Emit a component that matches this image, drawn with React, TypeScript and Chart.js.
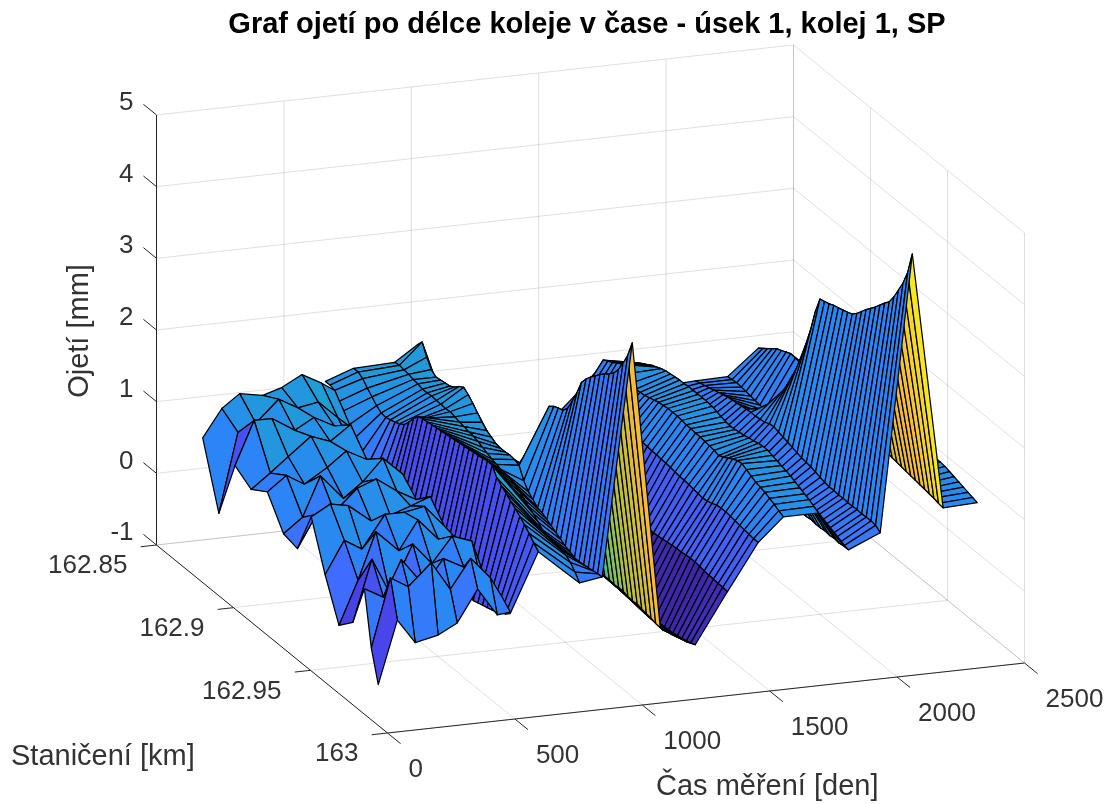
import React, { useEffect, useRef } from "react";
import { Chart, registerables } from "chart.js";

Chart.register(...registerables);

const titleText = "Graf ojetí po délce koleje v čase - úsek 1, kolej 1, SP";
const timeTicks = [0, 500, 1000, 1500, 2000, 2500];
const stationTicks = [162.85, 162.9, 162.95, 163];
const wearTicks = [-1, 0, 1, 2, 3, 4, 5];

const stations = [162.874,162.877,162.88,162.883,162.886,162.889,162.892,162.895,162.898,162.901,162.904,162.907,162.91,162.913,162.916,162.919,162.922,162.925,162.928,162.931,162.934,162.937,162.94,162.943,162.946,162.949,162.952,162.955,162.958,162.961,162.964,162.967,162.97,162.973,162.976,162.979,162.982,162.985,162.988,162.991,162.994];
const days = [518,628,790,879,997,1107,1244,1370,1491,1590,1727,1845,1970,2096,2217,2351];

const d518 = [1.5,1.5,1.48,1.38,1.3,1.15,1.0,.8,.6,.42,.3,.2,.15,.12,.1,.1,.08,.1,.12,.1,.08,.1,.12,.1,.08,.1,.12,.14,.12,.1,.12,.14,.12,.14,.16,.18,.2,.22,.26,.3,.36];
const d628 = [1.64,1.64,1.6,1.52,1.45,1.38,1.33,1.32,1.34,1.36,1.39,1.43,1.52,1.62,1.7,1.72,1.73,1.74,1.75,1.76,1.77,1.78,1.79,1.8,1.81,1.82,1.83,1.84,1.85,1.87,1.86,1.74,1.68,1.63,1.57,1.52,1.46,1.4,1.33,1.25,1.18];
const d790 = [1.66,1.67,1.66,1.65,1.63,1.62,1.6,1.6,1.61,1.6,1.6,1.59,1.6,1.58,1.56,1.55,1.53,1.52,1.5,1.47,1.44,1.41,1.39,1.37,1.36,1.34,1.31,1.27,1.22,1.17,1.12,1.06,1.0,.98,.96,.95,.93,.91,.86,.78,.68];
const d879 = [1.87,1.96,1.8,1.68,1.63,1.64,1.65,1.66,1.7,1.76,1.8,1.75,1.68,1.6,1.52,1.46,1.42,1.38,1.37,1.37,1.38,1.37,1.34,1.18,1.08,1.02,.96,.94,.9,.86,.82,.78,.74,.71,.68,.68,.69,.7,.71,.72,.73];
const d997 = [.72,.74,.7,.72,.74,.7,.72,.75,.74,.72,.7,.72,.74,.76,.75,.73,.72,.74,.76,.78,.85,1.05,2.12,2.17,2.2,2.22,2.3,2.45,2.62,2.82,2.92,3.0,3.07,3.14,3.2,3.25,3.32,3.42,3.56,3.72,3.95];
const d1107 = [.2,.2,.18,.15,.12,.1,.1,.08,.06,.05,.05,.03,.03,.02,.02,.02,.01,.02,.02,.02,.03,.03,.02,.02,.03,.02,.03,.03,.02,.02,.01,.02,.02,.0,-.01,.0,-.02,-.03,-.04,-.06,-.07];
const d1244 = [-.1,-.12,-.15,-.2,-.22,-.25,-.28,-.3,-.32,-.34,-.36,-.36,-.38,-.38,-.4,-.4,-.42,-.42,-.43,-.43,-.44,-.44,-.44,-.45,-.45,-.45,-.46,-.47,-.48,-.49,-.5,-.5,-.51,-.52,-.5,-.48,-.46,-.44,-.42,-.39,-.36];
const d1370 = [.5,.48,.45,.42,.4,.38,.36,.35,.34,.33,.32,.32,.31,.31,.3,.3,.3,.31,.31,.3,.3,.31,.31,.31,.31,.32,.33,.34,.35,.36,.36,.37,.38,.38,.37,.36,.35,.35,.34,.34,.33];
const d1491 = [.9,.92,.95,.98,1.0,1.02,1.03,1.04,1.05,1.05,1.06,1.06,1.06,1.05,1.06,1.05,1.05,1.04,1.04,1.03,1.03,1.02,1.01,1.0,1.0,.99,.98,.97,.96,.97,.99,1.02,1.03,1.03,1.02,1.01,1.0,.99,.98,.97,.97];
const d1590 = [1.26,1.43,1.47,1.5,1.55,1.58,1.5,1.42,1.39,1.4,1.41,1.43,1.45,1.47,1.48,1.49,1.49,1.49,1.48,1.47,1.47,1.46,1.46,1.45,1.44,1.43,1.41,1.44,1.48,1.52,1.55,1.56,1.53,1.49,1.46,1.44,1.42,1.39,1.36,1.32,1.29];
const d1727 = [1.29,1.34,1.38,1.42,1.46,1.49,1.52,1.54,1.55,1.56,1.57,1.57,1.58,1.58,1.58,1.58,1.58,1.57,1.55,1.53,1.51,1.5,1.51,1.52,1.53,1.55,1.56,1.58,1.59,1.59,1.57,1.55,1.53,1.51,1.49,1.46,1.43,1.4,1.37,1.33,1.29];
const d1845 = [.92,.9,.88,.86,.84,.82,.8,.8,.79,.78,.78,.77,.77,.76,.76,.75,.75,.75,.74,.75,.74,.75,.74,.74,.73,.74,.73,.73,.72,.73,.72,.72,.73,.72,.72,.73,.72,.73,.72,.73,.73];
const d1970 = [.94,.96,.98,1.0,1.02,1.04,1.06,1.08,1.09,1.1,1.11,1.12,1.13,1.13,1.14,1.15,1.18,1.19,1.17,1.15,1.13,1.11,1.09,1.07,1.06,1.05,1.03,1.01,.99,.98,.98,.97,.98,.97,.97,.98,.97,.98,.98,.97,.92];
const d2096 = [.95,.96,.97,.96,.95,.94,.93,.92,.9,.88,.95,1.1,1.3,1.5,1.65,1.83,2.05,2.3,2.55,2.85,3.08,3.1,3.12,3.15,3.17,3.19,3.21,3.24,3.3,3.38,3.46,3.53,3.6,3.68,3.76,3.83,3.95,4.1,4.25,4.45,4.76];
const d2217 = [1.3,1.35,1.4,1.45,1.5,1.53,1.56,1.59,1.58,1.57,1.56,1.55,1.54,1.52,1.5,1.49,1.47,1.46,1.44,1.43,1.42,1.41,1.4,1.39,1.37,1.36,1.34,1.33,1.31,1.29,1.28,1.27,1.26,1.25,1.24,1.23,1.22,1.21,1.2,1.18,1.17];
const d2351 = [1.11,1.1,1.1,1.11,1.12,1.13,1.14,1.15,1.16,1.17,1.18,1.19,1.2,1.21,1.22,1.23,1.24,1.25,1.26,1.26,1.27,1.28,1.29,1.3,1.3,1.31,1.32,1.32,1.33,1.33,1.34,1.34,1.34,1.33,1.31,1.29,1.27,1.25,1.23,1.21,1.19];
const wearByDay = [d518,d628,d790,d879,d997,d1107,d1244,d1370,d1491,d1590,d1727,d1845,d1970,d2096,d2217,d2351];

const roughStations = [162.88,162.8905,162.901,162.9115,162.922,162.9325,162.9415,162.9505,162.9595,162.9685,162.9775,162.985,162.9895,162.994];
const roughDays = [0,75,145,235,310,390,467,518];
const r0 = [1.02,.15,1.0,.85,1.0,.6,.55,1.15,.5,-.05,.15,.75,.0,-.43];
const r75 = [1.4,1.25,1.6,1.05,1.2,.8,1.0,1.3,.95,.55,1.0,.6,.95,.44];
const r145 = [1.58,1.35,1.6,1.25,1.05,1.35,1.0,1.25,.8,1.2,.5,1.1,.8,.1];
const r235 = [1.52,1.65,1.4,1.5,1.25,1.0,1.3,1.0,1.25,.9,1.15,.7,1.1,.17];
const r310 = [1.6,1.5,1.55,1.4,1.45,1.2,1.4,1.05,1.25,1.3,.85,1.05,.7,.31];
const r390 = [1.75,1.55,1.4,1.6,1.3,1.5,1.2,1.15,1.3,1.0,1.2,.9,1.1,.75];
const r467 = [1.6,1.3,1.05,.95,1.25,1.25,1.05,1.25,1.0,.95,1.1,.55,.8,.36];
const r518 = [1.48,1.15,.7,.55,.55,.8,.93,.7,.6,.55,.57,.55,.48,.38];
const roughWear = [r0,r75,r145,r235,r310,r390,r467,r518];

const parula = [[62,38,168],[72,70,235],[62,110,255],[42,135,245],[36,150,221],[20,178,198],[70,195,130],[190,190,60],[248,185,55],[245,215,40],[249,251,20]];
const cLimit = [-0.52, 4.76];

const project = (day: number, km: number, wear: number) => {
  const s = (km - 162.85) / 0.15;
  return {
    x: 156.5 + 0.2548 * day + 231 * s,
    y: 545 - 0.028 * day + 188 * s - 71.67 * (wear + 1),
  };
};

const colorOf = (z: number) => {
  const f = Math.min(1, Math.max(0, (z - cLimit[0]) / (cLimit[1] - cLimit[0]))) * (parula.length - 1);
  const i = Math.min(parula.length - 2, Math.floor(f));
  const u = f - i;
  const c = parula[i].map((v, j) => Math.round(v + (parula[i + 1][j] - v) * u));
  return `rgb(${c[0]},${c[1]},${c[2]})`;
};

const T0 = timeTicks[0], T1 = timeTicks[timeTicks.length - 1];
const S0 = stationTicks[0], S1 = stationTicks[stationTicks.length - 1];
const Z0 = wearTicks[0], Z1 = wearTicks[wearTicks.length - 1];

const GRID = "rgba(38,38,38,0.15)";
const AXIS = "#262626";
const lineSet = (pts: { x: number; y: number }[], color: string) => ({
  data: pts, showLine: true, borderColor: color, borderWidth: 1, pointRadius: 0, fill: false, tension: 0,
});

const gridSets = () => {
  const axes: any[] = [];
  const grid: any[] = [];
  timeTicks.forEach((t) => {
    grid.push(lineSet([project(t, S0, Z0), project(t, S1, Z0)], GRID));
    grid.push(lineSet([project(t, S0, Z0), project(t, S0, Z1)], GRID));
  });
  stationTicks.forEach((k) => {
    grid.push(lineSet([project(T0, k, Z0), project(T1, k, Z0)], GRID));
    grid.push(lineSet([project(T1, k, Z0), project(T1, k, Z1)], GRID));
  });
  wearTicks.forEach((w) => {
    grid.push(lineSet([project(T0, S0, w), project(T1, S0, w)], GRID));
    grid.push(lineSet([project(T1, S0, w), project(T1, S1, w)], GRID));
  });
  axes.push(lineSet([project(T0, S0, Z0), project(T0, S0, Z1)], AXIS));
  axes.push(lineSet([project(T0, S0, Z0), project(T0, S1, Z0)], AXIS));
  axes.push(lineSet([project(T0, S1, Z0), project(T1, S1, Z0)], AXIS));
  wearTicks.forEach((w) => axes.push(lineSet([project(T0, S0, w), project(T0, S0 - 0.0085, w)], AXIS)));
  stationTicks.forEach((k) => axes.push(lineSet([project(T0, k, Z0), project(T0 - 62, k, Z0)], AXIS)));
  timeTicks.forEach((t) => axes.push(lineSet([project(t, S1, Z0), project(t, S1 + 0.0085, Z0)], AXIS)));
  return [...axes, ...grid];
};

const surfaceSets = (group: string, cols: number[], rows: number[], values: number[][]) =>
  cols.map((t, k) => ({
    surface: group, wear: values[k], showLine: false, pointRadius: 0,
    data: rows.map((km, i) => project(t, km, values[k][i])),
  }));

const paintGroup = (chart: any, group: string) => {
  const ctx = chart.ctx;
  const idx: number[] = [];
  chart.data.datasets.forEach((d: any, i: number) => { if (d.surface === group) idx.push(i); });
  for (let k = idx.length - 2; k >= 0; k--) {
    const a = chart.getDatasetMeta(idx[k]).data;
    const b = chart.getDatasetMeta(idx[k + 1]).data;
    const w = chart.data.datasets[idx[k]].wear;
    for (let i = 0; i < a.length - 1; i++) {
      ctx.beginPath();
      ctx.moveTo(a[i].x, a[i].y);
      ctx.lineTo(b[i].x, b[i].y);
      ctx.lineTo(b[i + 1].x, b[i + 1].y);
      ctx.lineTo(a[i + 1].x, a[i + 1].y);
      ctx.closePath();
      ctx.fillStyle = colorOf(w[i]);
      ctx.fill();
      ctx.strokeStyle = "#000";
      ctx.lineWidth = 1.25;
      ctx.lineJoin = "round";
      ctx.stroke();
    }
  }
};

const FONT = '"Liberation Sans", Arial, sans-serif';

const surfacePlugin = {
  id: "surface",
  afterDatasetsDraw(chart: any) {
    const ctx = chart.ctx;
    ctx.save();
    paintGroup(chart, "dense");
    paintGroup(chart, "rough");
    ctx.restore();
  },
  afterDraw(chart: any) {
    const ctx = chart.ctx;
    const sx = chart.scales.x, sy = chart.scales.y;
    const put = (p: { x: number; y: number }, dx: number, dy: number, text: string, align: CanvasTextAlign) => {
      ctx.textAlign = align;
      ctx.fillText(text, sx.getPixelForValue(p.x) + dx, sy.getPixelForValue(p.y) + dy);
    };
    ctx.save();
    ctx.textBaseline = "middle";
    ctx.fillStyle = "#333";
    ctx.font = `26px ${FONT}`;
    wearTicks.forEach((w) => put(project(T0, S0, w), -23, -12, String(w), "right"));
    stationTicks.forEach((k) => put(project(T0, k, Z0), -29, 21, String(k), "right"));
    timeTicks.forEach((t) => put(project(t, S1, Z0), 21, 37, String(t), "left"));
    ctx.font = `29px ${FONT}`;
    ctx.textAlign = "left";
    ctx.fillText("Čas měření [den]", 656, 787);
    ctx.fillText("Staničení [km]", 11, 757);
    ctx.save();
    ctx.translate(80, 331);
    ctx.rotate(-Math.PI / 2);
    ctx.textAlign = "center";
    ctx.fillText("Ojetí [mm]", 0, 0);
    ctx.restore();
    ctx.fillStyle = "#000";
    ctx.font = `bold 29px ${FONT}`;
    ctx.textAlign = "center";
    ctx.fillText(titleText, 587, 25);
    ctx.restore();
  },
};

export default function App() {
  const ref = useRef<HTMLCanvasElement>(null);
  useEffect(() => {
    const chart = new Chart(ref.current as HTMLCanvasElement, {
      type: "scatter",
      data: {
        datasets: [
          ...gridSets(),
          ...surfaceSets("dense", days, stations, wearByDay),
          ...surfaceSets("rough", roughDays, roughStations, roughWear),
        ] as any,
      },
      options: {
        responsive: false,
        animation: false,
        layout: { padding: 0 },
        plugins: { legend: { display: false }, tooltip: { enabled: false }, title: { display: false } },
        scales: {
          x: { type: "linear", min: 0, max: 1112, display: false },
          y: { type: "linear", min: 0, max: 804, reverse: true, display: false },
        },
      },
      plugins: [surfacePlugin],
    });
    return () => chart.destroy();
  }, []);
  return (
    <canvas
      ref={ref}
      width={1112}
      height={804}
      style={{ position: "absolute", left: 0, top: 0, width: 1112, height: 804, background: "#fff" }}
    />
  );
}
